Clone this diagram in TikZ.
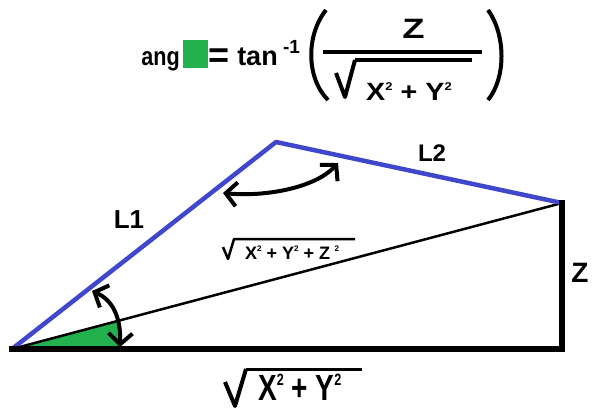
\documentclass[tikz,border=0pt]{standalone}
\usepackage{fontspec}
\setmainfont{Liberation Sans}
\usepackage{graphicx}
\usetikzlibrary{arrows.meta}
\definecolor{pgreen}{RGB}{34,177,76}
\definecolor{pblue}{RGB}{63,72,204}
\newcommand\mysup[1]{\raisebox{0.4em}{\scalebox{0.45}{#1}}}
\newcommand\fs[1]{\fontsize{#1}{#1}\selectfont\bfseries}
\begin{document}
\begin{tikzpicture}[x=1pt,y=-1pt,
  txt/.style={inner sep=0pt, font=\bfseries},
  barb/.style={{Straight Barb[length=11pt,width=24pt]}-{Straight Barb[length=11pt,width=24pt]}},
  thickk/.style={line width=6pt, line cap=rect},
  radv/.style={line width=4pt, line join=round},
  ]
\useasboundingbox (0,0) rectangle (594,408);
% triangle points
\coordinate (A) at (12,349);
\coordinate (B) at (562,349);
\coordinate (C) at (562,203);
\coordinate (D) at (276,142);
\coordinate (G) at (120,349);
\coordinate (H) at (120,320.3);
\fill[pgreen] (A) -- (G) -- (H) -- cycle;
\draw[line width=2.5pt] (A) -- (C);
\draw[pblue, line width=4.5pt, line join=round] (A) -- (D) -- (C);
\draw[thickk] (A) -- (B) -- (C);
% angle arrows
\coordinate (a1) at (120,347);
\coordinate (a2) at (92,291);
\draw[line width=4pt, barb] (a1) .. controls (121,318) and (113,300) .. (a2);
\coordinate (b1) at (223,193);
\coordinate (b2) at (338,163);
\draw[line width=4pt, barb] (b1) .. controls (265,197) and (315,188) .. (b2);
% labels
\node[txt] (L1) at (129,220) {\fs{26}L1};
\node[txt] (L2) at (432,153.5) {\fs{24}L2};
\node[txt] (Zl) at (580,273) {\fs{28}Z};
% middle label
\draw[line width=2.5pt, line join=round] (223,247) -- (228,259) -- (234,239) -- (355,239);
\node[txt, anchor=base west] (mid) at (245,259) {\fs{18}X\mysup{2} + Y\mysup{2} + Z\hspace{0.25em}\mysup{2}};
% bottom label
\draw[radv] (225,382) -- (235,406) -- (246,369);
\draw[line width=3pt] (246,369) -- (362,369);
\node[txt, anchor=base west] (bot) at (258,400) {\fs{28}\scalebox{1}[1.3]{X\mysup{2} + Y\mysup{2}}};
% formula
\node[txt, anchor=base] (ang) at (160.5,65) {\fs{24}\scalebox{0.9}[1.08]{ang}};
\node[fill=pgreen, minimum width=25pt, minimum height=28pt, inner sep=0pt] (sq) at (195.5,54) {};
\node[txt] (eq) at (219,58) {\fs{36}=};
\node[txt, anchor=base] (tan) at (257.5,65) {\fs{27}tan};
\node[txt, anchor=base] (inv) at (291.5,53) {\fs{19}-1};
\draw[line width=4pt] (326,10) .. controls (306,35) and (306,78) .. (328,100);
\draw[line width=4pt] (488,10) .. controls (506,35) and (506,78) .. (488,100);
\draw[line width=4pt] (323,52) -- (482,52);
\node[txt, anchor=base] (numZ) at (413.5,38.5) {\fs{28}\scalebox{1.3}[1]{Z}};
\draw[radv] (336,73) -- (345,97) -- (355,60);
\draw[line width=3.5pt] (355,60) -- (472,60);
\node[txt, anchor=base west] (den) at (366,100) {\fs{25}\scalebox{1.15}[1]{X\mysup{2} + Y\mysup{2}}};
\end{tikzpicture}
\end{document}
